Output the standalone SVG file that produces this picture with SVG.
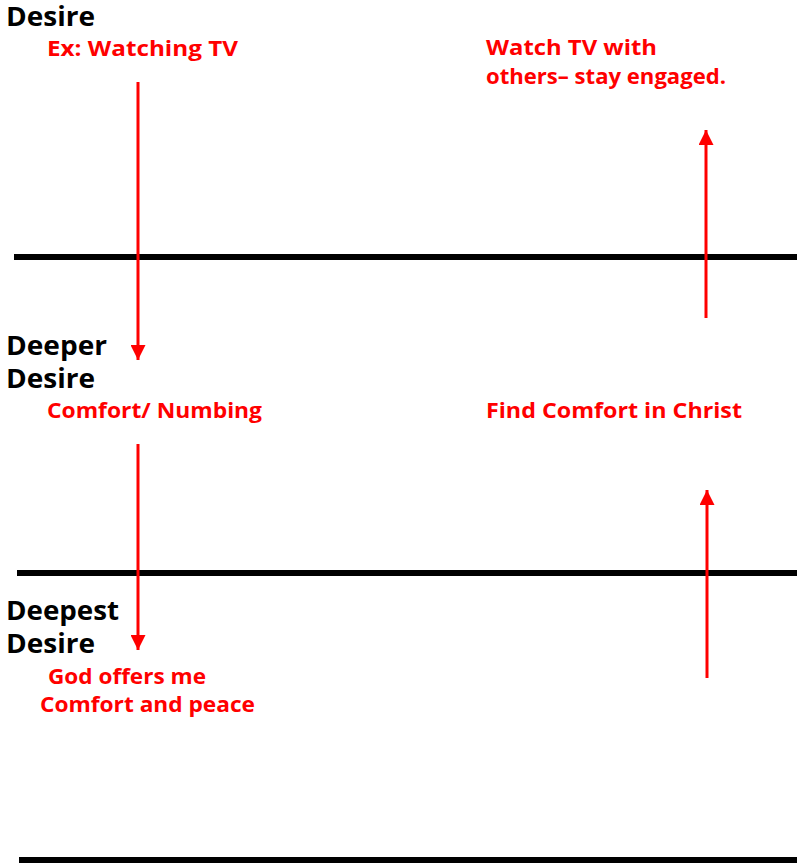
<svg xmlns="http://www.w3.org/2000/svg" width="797" height="867" viewBox="0 0 797 867">
<style>
.h{font-family:"Open Sans","Liberation Sans",sans-serif;font-weight:bold;font-size:26px;fill:#000}
.r{font-family:"Open Sans","Liberation Sans",sans-serif;font-weight:bold;font-size:21px;fill:#ff0000}
.bar{stroke:#000;stroke-width:6}
.arr{stroke:#ff0000;stroke-width:3;fill:none}
</style>
<defs>
<marker id="ah" viewBox="0 0 10 10" refX="10" refY="5" markerWidth="5" markerHeight="5" markerUnits="strokeWidth" orient="auto">
<path d="M0,0 L10,5 L0,10 Z" fill="#ff0000"/>
</marker>
</defs>
<rect width="797" height="867" fill="#fff"/>
<g id="lines">
<line class="bar" x1="14" y1="257" x2="797" y2="257"/>
<line class="bar" x1="17" y1="573" x2="797" y2="573"/>
<line class="bar" x1="19" y1="860" x2="797" y2="860"/>
</g>
<g id="level1">
<text class="h" x="6" y="26" textLength="89" lengthAdjust="spacingAndGlyphs">Desire</text>
<text class="r" x="47" y="56" textLength="191" lengthAdjust="spacingAndGlyphs">Ex: Watching TV</text>
<text class="r" x="486" y="55" textLength="171" lengthAdjust="spacingAndGlyphs">Watch TV with</text>
<text class="r" x="486" y="84" textLength="240" lengthAdjust="spacingAndGlyphs">others– stay engaged.</text>
</g>
<g id="level2">
<text class="h" x="6" y="355" textLength="101" lengthAdjust="spacingAndGlyphs">Deeper</text>
<text class="h" x="6" y="388" textLength="89" lengthAdjust="spacingAndGlyphs">Desire</text>
<text class="r" x="47" y="418" textLength="215" lengthAdjust="spacingAndGlyphs">Comfort/ Numbing</text>
<text class="r" x="486" y="418" textLength="256" lengthAdjust="spacingAndGlyphs">Find Comfort in Christ</text>
</g>
<g id="level3">
<text class="h" x="6" y="620" textLength="113" lengthAdjust="spacingAndGlyphs">Deepest</text>
<text class="h" x="6" y="653" textLength="89" lengthAdjust="spacingAndGlyphs">Desire</text>
<text class="r" x="48" y="684" textLength="158" lengthAdjust="spacingAndGlyphs">God offers me</text>
<text class="r" x="40" y="712" textLength="215" lengthAdjust="spacingAndGlyphs">Comfort and peace</text>
</g>
<g id="connectors">
<line class="arr" x1="138" y1="82" x2="138" y2="360" marker-end="url(#ah)"/>
<line class="arr" x1="138" y1="444" x2="138" y2="650" marker-end="url(#ah)"/>
<line class="arr" x1="706" y1="318" x2="706" y2="130" marker-end="url(#ah)"/>
<line class="arr" x1="707" y1="678" x2="707" y2="490" marker-end="url(#ah)"/>
</g>
</svg>
